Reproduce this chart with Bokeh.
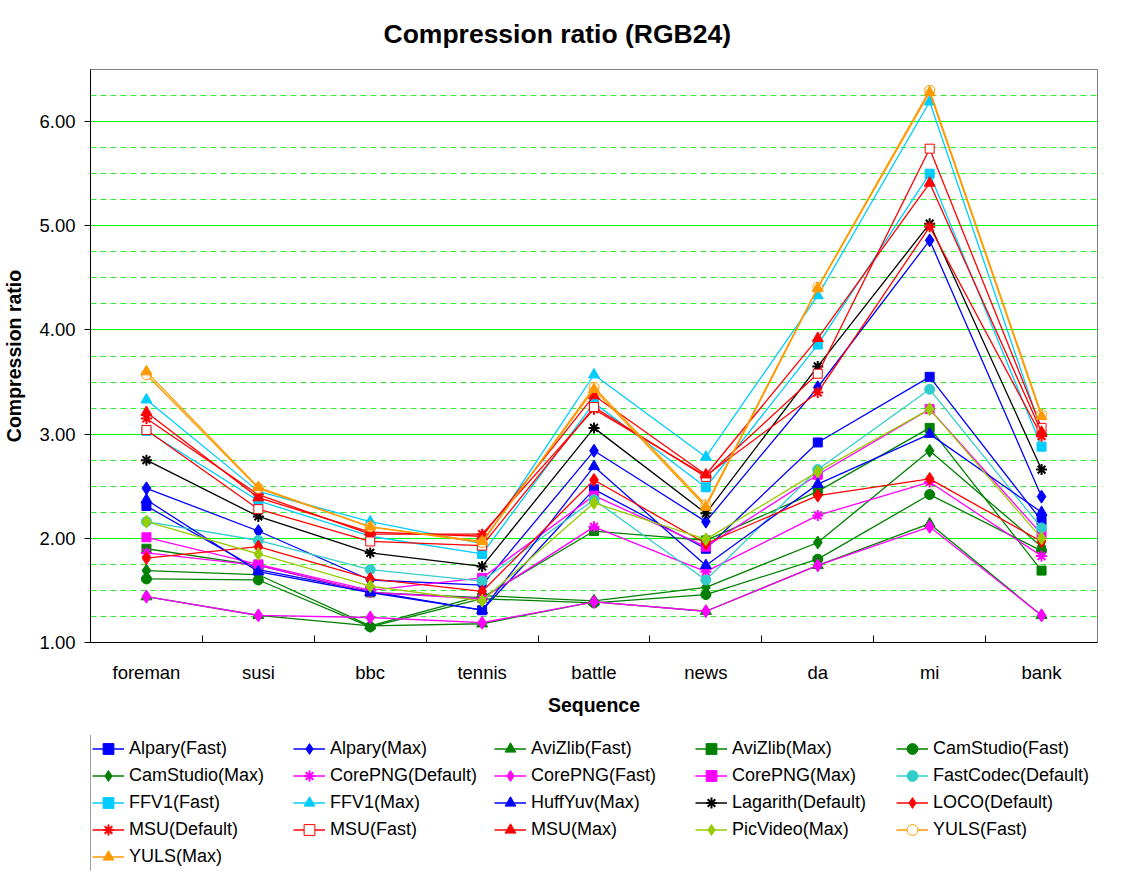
from bokeh.plotting import figure
from bokeh.layouts import column
from bokeh.models import FixedTicker, Legend, LegendItem, ColumnDataSource, PrintfTickFormatter
from bokeh.embed import file_html
from bokeh.resources import INLINE

# ---------------- data ----------------
categories = ["foreman", "susi", "bbc", "tennis", "battle", "news", "da", "mi", "bank"]
y_ticks = [1.0, 2.0, 3.0, 4.0, 5.0, 6.0]

series_names = [
    "Alpary(Fast)", "Alpary(Max)", "AviZlib(Fast)", "AviZlib(Max)", "CamStudio(Fast)",
    "CamStudio(Max)", "CorePNG(Default)", "CorePNG(Fast)", "CorePNG(Max)", "FastCodec(Default)",
    "FFV1(Fast)", "FFV1(Max)", "HuffYuv(Max)", "Lagarith(Default)", "LOCO(Default)",
    "MSU(Default)", "MSU(Fast)", "MSU(Max)", "PicVideo(Max)", "YULS(Fast)",
    "YULS(Max)",
]

alpary_fast = [2.31, 1.70, 1.49, 1.31, 2.47, 1.90, 2.92, 3.55, 2.17]
alpary_max = [2.48, 2.07, 1.60, 1.55, 2.84, 2.16, 3.45, 4.86, 2.40]
avizlib_fast = [1.44, 1.26, 1.16, 1.18, 1.39, 1.30, 1.74, 2.14, 1.26]
avizlib_max = [1.90, 1.74, 1.48, 1.43, 2.07, 1.98, 2.45, 3.06, 1.69]
camstudio_fast = [1.61, 1.60, 1.15, 1.42, 1.38, 1.46, 1.80, 2.42, 1.88]
camstudio_max = [1.69, 1.65, 1.16, 1.45, 1.40, 1.53, 1.96, 2.84, 1.92]
corepng_default = [1.86, 1.74, 1.48, 1.42, 2.11, 1.68, 2.22, 2.54, 1.83]
corepng_fast = [1.44, 1.26, 1.24, 1.19, 1.39, 1.30, 1.74, 2.11, 1.26]
corepng_max = [2.01, 1.75, 1.50, 1.62, 2.41, 1.92, 2.61, 3.24, 2.04]
fastcodec_default = [2.16, 1.98, 1.70, 1.59, 2.37, 1.60, 2.66, 3.43, 2.10]
ffv1_fast = [3.03, 2.36, 2.02, 1.85, 3.30, 2.49, 3.86, 5.50, 2.88]
ffv1_max = [3.33, 2.45, 2.16, 1.95, 3.57, 2.78, 4.33, 6.19, 3.03]
huffyuv_max = [2.37, 1.68, 1.48, 1.31, 2.69, 1.74, 2.52, 3.00, 2.25]
lagarith_default = [2.75, 2.21, 1.86, 1.73, 3.06, 2.24, 3.65, 5.02, 2.66]
loco_default = [1.81, 1.92, 1.61, 1.49, 2.56, 1.95, 2.41, 2.57, 1.97]
msu_default = [3.15, 2.42, 2.04, 2.04, 3.24, 2.60, 3.40, 4.99, 2.98]
msu_fast = [3.04, 2.28, 1.97, 1.93, 3.26, 2.59, 3.58, 5.74, 3.06]
msu_max = [3.21, 2.39, 2.06, 2.02, 3.37, 2.61, 3.92, 5.41, 3.02]
picvideo_max = [2.16, 1.85, 1.54, 1.40, 2.34, 1.99, 2.64, 3.24, 2.00]
yuls_fast = [3.57, 2.48, 2.11, 1.96, 3.45, 2.32, 4.41, 6.30, 3.19]
yuls_max = [3.60, 2.49, 2.11, 1.97, 3.43, 2.30, 4.40, 6.28, 3.17]

series_values = [
    alpary_fast, alpary_max, avizlib_fast, avizlib_max, camstudio_fast,
    camstudio_max, corepng_default, corepng_fast, corepng_max, fastcodec_default,
    ffv1_fast, ffv1_max, huffyuv_max, lagarith_default, loco_default,
    msu_default, msu_fast, msu_max, picvideo_max, yuls_fast, yuls_max,
]

# ---------------- styles ----------------
BLUE, GREEN, MAG, TEAL, SKY = "#0000FF", "#008000", "#FF00FF", "#33CCCC", "#00CCFF"
BLACK, RED, YG, ORANGE = "#000000", "#FF0000", "#99CC00", "#FF9900"
styles = [
    (BLUE, "square", True), (BLUE, "diamond", True), (GREEN, "triangle", True),
    (GREEN, "square", True), (GREEN, "circle", True), (GREEN, "diamond", True),
    (MAG, "asterisk", True), (MAG, "diamond", True), (MAG, "square", True),
    (TEAL, "circle", True), (SKY, "square", True), (SKY, "triangle", True),
    (BLUE, "triangle", True), (BLACK, "asterisk", True), (RED, "diamond", True),
    (RED, "asterisk", True), (RED, "square", False), (RED, "triangle", True),
    (YG, "diamond", True), (ORANGE, "circle", False), (ORANGE, "triangle", True),
]
marker_sizes = {"square": 9, "diamond": 13, "triangle": 11, "circle": 10, "asterisk": 11}

FONT = "Liberation Sans"

# ---------------- main chart ----------------
p = figure(width=1108, height=735, x_range=(0, 9), y_range=(1.0, 6.5),
           output_backend="svg", toolbar_location=None,
           min_border_left=89, min_border_right=11, min_border_top=69, min_border_bottom=93)

p.title.text = "Compression ratio (RGB24)"
p.title.align = "left"
p.title.offset = 293
p.title.vertical_align = "top"
p.title.standoff = 37
p.title.text_font = FONT
p.title.text_font_size = "26.5px"
p.title.text_font_style = "bold"
p.title.text_color = "#000000"

p.outline_line_color = "#808080"
p.outline_line_width = 1

x_centers = [i + 0.5 for i in range(len(categories))]
x_bounds = [i for i in range(1, len(categories))]

# x axis
p.xaxis.ticker = FixedTicker(ticks=x_centers, minor_ticks=x_bounds)
p.xaxis.major_label_overrides = {c: lab for c, lab in zip(x_centers, categories)}
p.xaxis.major_tick_in = 0
p.xaxis.major_tick_out = 0
p.xaxis.minor_tick_in = 7
p.xaxis.minor_tick_out = 0
p.xaxis.minor_tick_line_color = "#000000"
p.xaxis.axis_label = "Sequence"
p.xaxis.major_label_standoff = 19
p.xaxis.axis_label_standoff = 8

# y axis
minor_y = [1.0 + 0.25 * k for k in range(1, 22) if k % 4 != 0]
p.yaxis.ticker = FixedTicker(ticks=y_ticks, minor_ticks=minor_y)
p.yaxis.formatter = PrintfTickFormatter(format="%.2f")
p.yaxis.major_tick_in = 0
p.yaxis.major_tick_out = 6
p.yaxis.minor_tick_line_color = None
p.yaxis.axis_label = "Compression ratio"
p.yaxis.major_label_standoff = 9
p.yaxis.axis_label_standoff = 11

for ax in (p.xaxis, p.yaxis):
    ax.axis_line_color = "#000000"
    ax.major_tick_line_color = "#000000"
    ax.major_label_text_font = FONT
    ax.major_label_text_font_size = "18.5px"
    ax.major_label_text_color = "#000000"
    ax.axis_label_text_font = FONT
    ax.axis_label_text_font_size = "19.5px"
    ax.axis_label_text_font_style = "bold"
    ax.axis_label_text_color = "#000000"

# grid
p.xgrid.visible = False
p.ygrid.ticker = FixedTicker(ticks=y_ticks, minor_ticks=minor_y)
p.ygrid.grid_line_color = "#00FF00"
p.ygrid.grid_line_width = 1
p.ygrid.minor_grid_line_color = "#33EE33"
p.ygrid.minor_grid_line_dash = "6 4"
p.ygrid.minor_grid_line_width = 1

# ---------------- legend strip (separate figure below the chart) ----------------
pl = figure(width=1108, height=136, x_range=(100, 101), y_range=(0, 1),
            output_backend="svg", toolbar_location=None,
            x_axis_type=None, y_axis_type=None,
            min_border_left=89, min_border_right=11, min_border_top=0, min_border_bottom=0)
pl.outline_line_color = None
pl.grid.visible = False

items = []
for name, vals, (color, marker, filled) in zip(series_names, series_values, styles):
    src = ColumnDataSource(dict(x=x_centers, y=vals))
    fill = color if filled else "#FFFFFF"
    lw = 2 if marker == "asterisk" else 1
    p.line("x", "y", source=src, line_color=color, line_width=1.3)
    p.scatter("x", "y", source=src, marker=marker, size=marker_sizes[marker],
              line_color=color, fill_color=fill, line_width=lw)
    # same series in the legend strip (outside its visible range) -> legend keys only
    kl = pl.line("x", "y", source=src, line_color=color, line_width=1.6)
    ks = pl.scatter("x", "y", source=src, marker=marker, line_color=color,
                    fill_color=fill, line_width=lw)
    items.append(LegendItem(label=name, renderers=[kl, ks]))

# arrange entries so they read row by row (5 columns); the grid fills column by column
NCOLS, NROWS = 5, 5
ordered = []
for c in range(NCOLS):
    for r in range(NROWS):
        k = r * NCOLS + c
        if k < len(items):
            ordered.append(items[k])
        elif c < NCOLS - 1:
            ordered.append(LegendItem(label=" ", renderers=[]))

legend = Legend(items=ordered, ncols=NCOLS, location=(0, -1))
legend.border_line_color = "#404040"
legend.border_line_width = 1
legend.background_fill_color = "#FFFFFF"
legend.background_fill_alpha = 1
legend.label_text_font = FONT
legend.label_text_font_size = "18px"
legend.label_text_color = "#000000"
legend.glyph_width = 32
legend.glyph_height = 27
legend.label_height = 27
legend.label_width = 164
legend.label_standoff = 5
legend.spacing = 0
legend.padding = 1
legend.margin = 0
pl.add_layout(legend)

layout = column(p, pl, spacing=0)
open("out.html", "w").write(file_html(layout, INLINE))
